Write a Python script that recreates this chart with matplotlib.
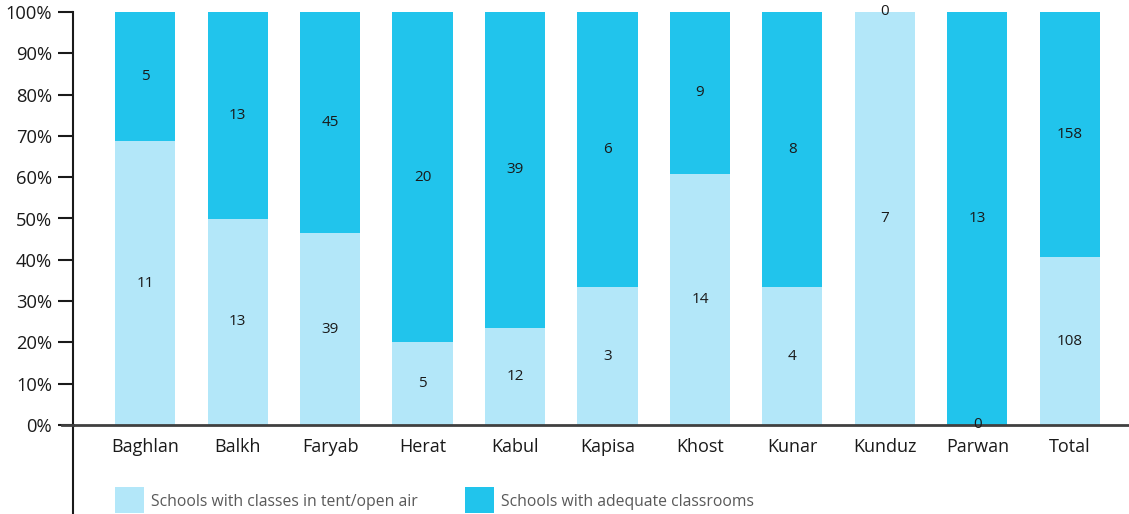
import matplotlib
matplotlib.use("Agg")
import matplotlib.pyplot as plt
from matplotlib.patches import Rectangle
from matplotlib.lines import Line2D
import numpy as np

plt.rcParams["font.family"] = ["Open Sans", "DejaVu Sans"]

provinces = ["Baghlan", "Balkh", "Faryab", "Herat", "Kabul", "Kapisa",
             "Khost", "Kunar", "Kunduz", "Parwan", "Total"]
tent_open_air = [11, 13, 39, 5, 12, 3, 14, 4, 7, 0, 108]
adequate = [5, 13, 45, 20, 39, 6, 9, 8, 0, 13, 158]
series_names = ["Schools with classes in tent/open air", "Schools with adequate classrooms"]
LIGHT = "#B3E7F9"
DARK = "#21C4EC"

tent = np.array(tent_open_air, dtype=float)
adeq = np.array(adequate, dtype=float)
tot = tent + adeq
p_tent = tent / tot * 100
p_adeq = adeq / tot * 100

W, H = 1129, 514
fig = plt.figure(figsize=(W / 100, H / 100), dpi=100)
ax = fig.add_axes([73 / W, (H - 425) / H, (W - 73) / W, 413 / H])

x = np.arange(len(provinces))
bw = 0.65
ax.bar(x, p_tent, bw, color=LIGHT, zorder=2)
ax.bar(x, p_adeq, bw, bottom=p_tent, color=DARK, zorder=2)

for i in range(len(x)):
    ax.text(x[i], p_tent[i] / 2, str(tent_open_air[i]), ha="center", va="center",
            fontsize=11, color="#1a1a1a", zorder=3)
    ax.text(x[i], p_tent[i] + p_adeq[i] / 2, str(adequate[i]), ha="center", va="center",
            fontsize=11, color="#1a1a1a", zorder=3)

ax.set_xlim(-0.78, len(x) - 1 + 0.64)
ax.set_ylim(0, 100)
ax.set_yticks(np.arange(0, 101, 10))
ax.set_yticklabels([f"{v}%" for v in range(0, 101, 10)], fontsize=13.2, color="#1a1a1a")
ax.set_xticks(x)
ax.set_xticklabels(provinces, fontsize=13, color="#1a1a1a")
ax.tick_params(axis="x", length=0, pad=9)
ax.tick_params(axis="y", length=11, width=1.5, color="#1a1a1a", pad=4)

for s in ["top", "right"]:
    ax.spines[s].set_visible(False)
ax.spines["left"].set_linewidth(1.5)
ax.spines["left"].set_color("#1a1a1a")
ax.spines["bottom"].set_linewidth(2)
ax.spines["bottom"].set_color("#404040")

# left spine continues down to the legend area
fig.add_artist(Line2D([73 / W, 73 / W], [0, (H - 425) / H], transform=fig.transFigure,
                      color="#1a1a1a", linewidth=1.5))
# x axis line reaches left to the tick ends
fig.add_artist(Line2D([62 / W, 73 / W], [(H - 425) / H, (H - 425) / H], transform=fig.transFigure,
                      color="#404040", linewidth=2))

# legend drawn by hand
leg = [(115, LIGHT, series_names[0]), (465, DARK, series_names[1])]
for lx, col, lab in leg:
    fig.add_artist(Rectangle((lx / W, (H - 513) / H), 29 / W, 26 / H, transform=fig.transFigure,
                             facecolor=col, edgecolor="none"))
    fig.text((lx + 36) / W, (H - 502) / H, lab, fontsize=11.3, color="#595959",
             ha="left", va="center")

fig.savefig("out.png", dpi=100)
